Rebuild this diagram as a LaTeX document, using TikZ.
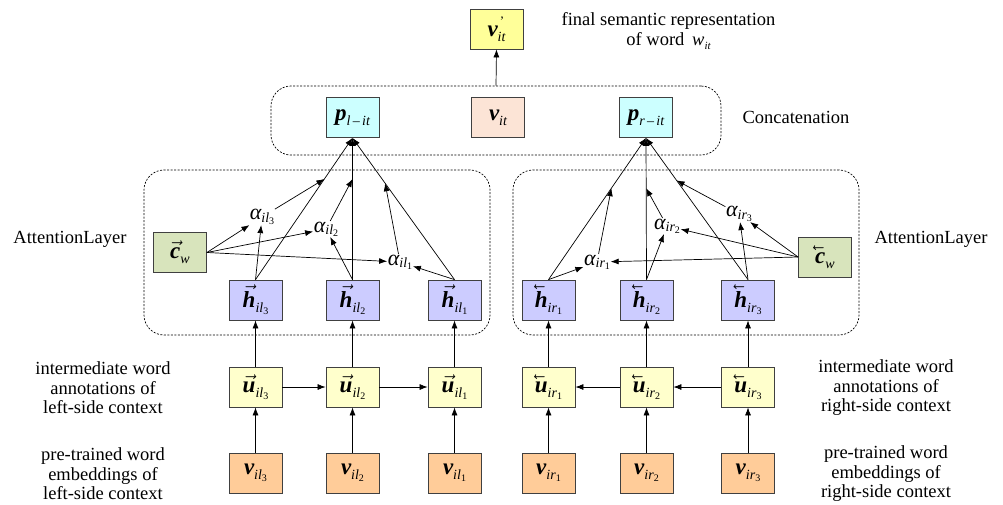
\documentclass[tikz,border=0pt]{standalone}
\usepackage{fontspec}
\setmainfont{Liberation Serif}
\usetikzlibrary{arrows.meta,calc}

\definecolor{cFinal}{RGB}{255,255,153}
\definecolor{cP}{RGB}{204,255,255}
\definecolor{cVit}{RGB}{252,228,214}
\definecolor{cH}{RGB}{204,204,255}
\definecolor{cC}{RGB}{216,228,188}
\definecolor{cU}{RGB}{255,255,204}
\definecolor{cV}{RGB}{255,204,153}
\definecolor{cEdge}{RGB}{64,64,64}

% bold italic vector symbol
\newcommand\bv[1]{{\bfseries\itshape #1}}
% italic subscript
\newcommand\sbs[1]{\raisebox{-0.45ex}{\fontsize{14}{14}\selectfont\itshape #1}}
% index like i l_3 with an upright small digit
\newcommand\idx[2]{\sbs{i#1\raisebox{-0.35ex}{\fontsize{10}{10}\selectfont\upshape #2}}}
% forward and backward arrow accents
\newcommand\rv[1]{$\vec{\hbox{#1}}$}
\newcommand\lv[1]{\reflectbox{$\vec{\hbox{\reflectbox{#1}}}$}}
% attention weight
\newcommand\al[2]{{\fontsize{22}{24}\selectfont\itshape α}\idx{#1}{#2}}

\tikzset{
  box/.style={draw=cEdge, line width=0.8pt, minimum width=53pt, minimum height=40pt,
    inner sep=0pt, font=\fontsize{23}{25}\selectfont},
  conn/.style={-{Latex[length=8pt,width=6pt]}, line width=0.7pt},
  group/.style={draw, dash pattern=on 2pt off 1.5pt, rounded corners=20pt, line width=0.7pt,
    inner sep=0pt},
  lbl/.style={font=\fontsize{18.5}{19.5}\selectfont, align=center},
  wgt/.style={inner sep=0.5pt},
}

\begin{document}
\begin{tikzpicture}[x=1pt,y=-1pt]
\useasboundingbox (0,0) rectangle (1003,504);

% dashed groups
\node[group, minimum width=450pt, minimum height=69pt] (concat) at (496,120.5) {};
\node[group, minimum width=346pt, minimum height=165pt] (attl) at (317,252.5) {};
\node[group, minimum width=346pt, minimum height=165pt] (attr) at (686,252.5) {};

% top
\node[box, fill=cFinal] (vp) at (496.5,29) {\bv{v}\rlap{\raisebox{1.1ex}{\fontsize{13}{13}\selectfont\,'}}\sbs{it}};
\node[box, fill=cP] (pl) at (352.5,117.5) {\bv{p}\sbs{l\,–\,it}};
\node[box, fill=cVit] (vit) at (498,117.5) {\bv{v}\sbs{it}};
\node[box, fill=cP] (pr) at (646,117.5) {\bv{p}\sbs{r\,–\,it}};

% hidden annotations
\node[box, fill=cH] (hl3) at (255.5,300) {\rv{\bv{h}}\idx{l}{3}};
\node[box, fill=cH] (hl2) at (352.5,300) {\rv{\bv{h}}\idx{l}{2}};
\node[box, fill=cH] (hl1) at (454.5,300) {\rv{\bv{h}}\idx{l}{1}};
\node[box, fill=cH] (hr1) at (548.5,300) {\lv{\bv{h}}\idx{r}{1}};
\node[box, fill=cH] (hr2) at (646.5,300) {\lv{\bv{h}}\idx{r}{2}};
\node[box, fill=cH] (hr3) at (748,300) {\lv{\bv{h}}\idx{r}{3}};

% intermediate annotations
\node[box, fill=cU] (ul3) at (255.5,387) {\rv{\bv{u}}\idx{l}{3}};
\node[box, fill=cU] (ul2) at (352.5,387) {\rv{\bv{u}}\idx{l}{2}};
\node[box, fill=cU] (ul1) at (454.5,387) {\rv{\bv{u}}\idx{l}{1}};
\node[box, fill=cU] (ur1) at (548.5,387) {\lv{\bv{u}}\idx{r}{1}};
\node[box, fill=cU] (ur2) at (646.5,387) {\lv{\bv{u}}\idx{r}{2}};
\node[box, fill=cU] (ur3) at (748,387) {\lv{\bv{u}}\idx{r}{3}};

% embeddings
\node[box, fill=cV] (vl3) at (255.5,473) {\bv{v}\idx{l}{3}};
\node[box, fill=cV] (vl2) at (352.5,473) {\bv{v}\idx{l}{2}};
\node[box, fill=cV] (vl1) at (454.5,473) {\bv{v}\idx{l}{1}};
\node[box, fill=cV] (vr1) at (548.5,473) {\bv{v}\idx{r}{1}};
\node[box, fill=cV] (vr2) at (646.5,473) {\bv{v}\idx{r}{2}};
\node[box, fill=cV] (vr3) at (748,473) {\bv{v}\idx{r}{3}};

% context vectors
\node[box, fill=cC] (cwl) at (180,252.5) {\rv{\bv{c}}\sbs{w}};
\node[box, fill=cC] (cwr) at (825,257) {\lv{\bv{c}}\sbs{w}};

% attention weights
\node[wgt] (al3) at (262,217) {\al{l}{3}};
\node[wgt] (al2) at (326,229) {\al{l}{2}};
\node[wgt] (al1) at (400,262) {\al{l}{1}};
\node[wgt] (ar1) at (597,262) {\al{r}{1}};
\node[wgt] (ar2) at (667,226) {\al{r}{2}};
\node[wgt] (ar3) at (739,214) {\al{r}{3}};

% labels
\node[lbl] (tfinal) at (668.5,31) {final semantic representation\\of word \,{\itshape w}\raisebox{-0.45ex}{\fontsize{11}{11}\selectfont\itshape it}};
\node[lbl] (tcat) at (796,117) {Concatenation};
\node[lbl] (tattl) at (70,239) {AttentionLayer};
\node[lbl] (tattr) at (931,239) {AttentionLayer};
\node[lbl] (tul) at (103,388) {intermediate word\\annotations of\\left-side context};
\node[lbl] (tvl) at (103,474) {pre-trained word\\embeddings of\\left-side context};
\node[lbl] (tur) at (886,388) {intermediate word\\annotations of\\right-side context};
\node[lbl] (tvr) at (886,474) {pre-trained word\\embeddings of\\right-side context};

% embeddings to annotations to hidden states
\foreach \c in {l3,l2,l1,r1,r2,r3}{
  \draw[conn] (v\c.north) -- (u\c.south);
  \draw[conn] (u\c.north) -- (h\c.south);
}
\draw[conn] (ul3) -- (ul2);
\draw[conn] (ul2) -- (ul1);
\draw[conn] (ur3) -- (ur2);
\draw[conn] (ur2) -- (ur1);

% hidden states to pooled vectors
\foreach \c in {l3,l2,l1}{\draw[conn] (h\c.north) -- (pl.south);}
\foreach \c in {r1,r2,r3}{\draw[conn] (h\c.north) -- (pr.south);}

% weight points on the pooling lines
\coordinate (tl3) at ($(hl3.north)!0.71!(pl.south)$);
\coordinate (tl2) at ($(hl2.north)!0.71!(pl.south)$);
\coordinate (tl1) at ($(hl1.north)!0.68!(pl.south)$);
\coordinate (tr1) at ($(hr1.north)!0.645!(pr.south)$);
\coordinate (tr2) at ($(hr2.north)!0.645!(pr.south)$);
\coordinate (tr3) at ($(hr3.north)!0.70!(pr.south)$);

% attention computation, left
\foreach \k in {3,2,1}{
  \draw[conn] (cwl.east) -- (al\k);
  \draw[conn] (hl\k.north) -- (al\k);
  \draw[conn] (al\k) -- (tl\k);
}
% attention computation, right
\foreach \k in {1,2,3}{
  \draw[conn] (cwr.west) -- (ar\k);
  \draw[conn] (hr\k.north) -- (ar\k);
  \draw[conn] (ar\k) -- (tr\k);
}

% output
\draw[conn] (concat.north) -- (vp.south);
\end{tikzpicture}
\end{document}
